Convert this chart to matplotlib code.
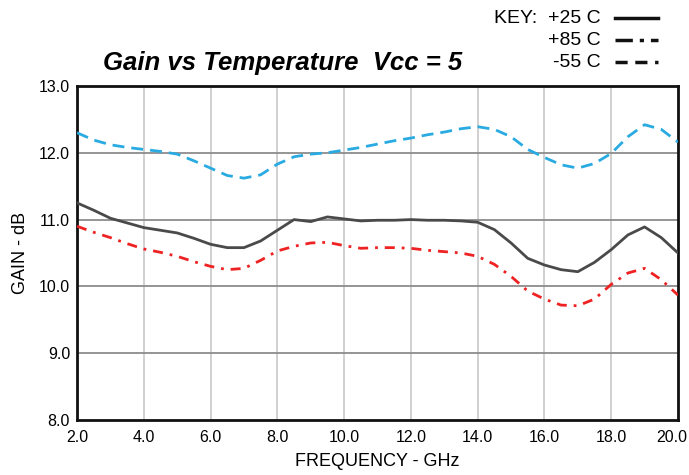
import matplotlib
matplotlib.use('Agg')
import matplotlib.pyplot as plt
from matplotlib.lines import Line2D
import matplotlib.transforms as mtransforms

plt.rcParams['font.family'] = ['Liberation Sans', 'DejaVu Sans']

freq = [2.0, 2.5, 3.0, 3.5, 4.0, 4.5, 5.0, 5.5, 6.0, 6.5, 7.0, 7.5, 8.0, 8.5, 9.0, 9.5,
        10.0, 10.5, 11.0, 11.5, 12.0, 12.5, 13.0, 13.5, 14.0, 14.5, 15.0, 15.5, 16.0,
        16.5, 17.0, 17.5, 18.0, 18.5, 19.0, 19.5, 20.0]

gain_25 = [11.25, 11.14, 11.02, 10.95, 10.88, 10.84, 10.80, 10.72, 10.63, 10.58, 10.58, 10.68,
           10.84, 11.00, 10.97, 11.04, 11.01, 10.98, 10.99, 10.99, 11.00, 10.99, 10.99, 10.98,
           10.96, 10.85, 10.65, 10.42, 10.32, 10.25, 10.22, 10.36, 10.55, 10.77, 10.89, 10.73,
           10.50]
gain_85 = [10.90, 10.81, 10.73, 10.64, 10.56, 10.51, 10.45, 10.37, 10.30, 10.25, 10.27, 10.39,
           10.53, 10.60, 10.65, 10.66, 10.61, 10.57, 10.58, 10.58, 10.57, 10.54, 10.52, 10.50,
           10.45, 10.33, 10.15, 9.93, 9.81, 9.72, 9.71, 9.81, 10.03, 10.20, 10.27, 10.10, 9.87]
gain_m55 = [12.30, 12.19, 12.12, 12.08, 12.05, 12.02, 11.98, 11.88, 11.77, 11.66, 11.62, 11.67,
            11.83, 11.94, 11.98, 12.00, 12.04, 12.08, 12.13, 12.18, 12.22, 12.27, 12.31, 12.36,
            12.39, 12.35, 12.24, 12.05, 11.93, 11.82, 11.77, 11.84, 11.99, 12.24, 12.42, 12.35,
            12.16]

xticks = [2.0, 4.0, 6.0, 8.0, 10.0, 12.0, 14.0, 16.0, 18.0, 20.0]
yticks = [8.0, 9.0, 10.0, 11.0, 12.0, 13.0]

fig = plt.figure(figsize=(6.89, 4.75), dpi=100)
ax = fig.add_axes([0.1118, 0.1158, 0.8722, 0.7032])

for x in xticks[1:-1]:
    ax.axvline(x, color='#c8c8c8', lw=1.2, zorder=1)
for y in yticks[1:-1]:
    ax.axhline(y, color='#8c8c8c', lw=1.3, zorder=1)

ax.plot(freq, gain_m55, color='#29abe2', lw=2, dashes=(4.3, 2.5), zorder=3)
ax.plot(freq, gain_25, color='#4a4a4a', lw=2, zorder=3)
ax.plot(freq, gain_85, color='#ee2222', lw=2, dashes=(3.6, 2.5, 1.0, 2.5), zorder=3)

ax.set_xlim(2, 20)
ax.set_ylim(8, 13)
ax.set_xticks(xticks)
ax.set_yticks(yticks)
ax.set_xticklabels(['%.1f' % v for v in xticks])
ax.set_yticklabels(['%.1f' % v for v in yticks])
ax.tick_params(length=0, labelsize=11.5)
ax.tick_params(axis='x', pad=7)
ax.tick_params(axis='y', pad=5)
# last x label sits at the right edge, nudge it in a little
lab = ax.get_xticklabels()[-1]
lab.set_transform(lab.get_transform() + mtransforms.ScaledTranslation(-6 / 100, 0, fig.dpi_scale_trans))
for s in ax.spines.values():
    s.set_linewidth(2)
    s.set_color('#111111')

ax.set_xlabel('FREQUENCY - GHz', fontsize=13, labelpad=6)
ax.set_ylabel('GAIN - dB', fontsize=13, labelpad=7)

fig.text(0.149, 0.868, 'Gain vs Temperature  Vcc = 5', fontsize=18.5,
         fontweight='bold', fontstyle='italic', va='center', ha='left')

# key in upper right
key_labels = ['KEY:  +25 C', '+85 C', '-55 C']
key_styles = [dict(color='#111111'), dict(color='#111111', dashes=(5, 2, 1.2, 2)),
              dict(color='#111111', dashes=(3.5, 2.2))]
for i, (lab, st) in enumerate(zip(key_labels, key_styles)):
    yy = 0.962 - i * 0.0465
    fig.text(0.872, yy, lab, fontsize=14, va='center', ha='right')
    fig.add_artist(Line2D([0.893, 0.955], [yy, yy], transform=fig.transFigure, lw=2.5, **st))

fig.savefig('out.png', dpi=100)
